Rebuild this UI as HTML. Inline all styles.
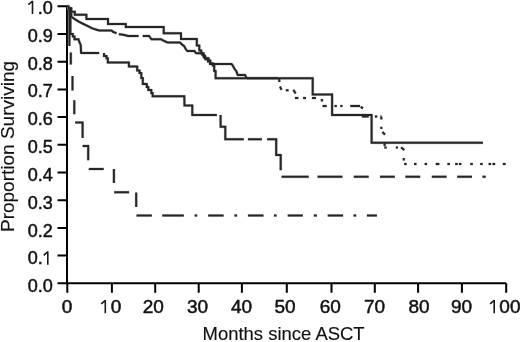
<!DOCTYPE html>
<html><head><meta charset="utf-8"><style>
html,body{margin:0;padding:0;background:#fff;width:520px;height:342px;overflow:hidden}
svg{display:block;filter:grayscale(1)}
text{font-family:"Liberation Sans",sans-serif;font-size:19px;fill:#111;stroke:#111;stroke-width:0.5px}
.h{fill:none;stroke:none}
.t{stroke-width:0.15px}
</style></head><body>
<svg width="520" height="342" viewBox="0 0 520 342">
<path d="M57.50,6.30H67.00V283.30H506.20" fill="none" stroke="#000" stroke-width="2"/>
<path d="M57.50,283.30H67.00M57.50,255.60H67.00M57.50,227.90H67.00M57.50,200.20H67.00M57.50,172.50H67.00M57.50,144.80H67.00M57.50,117.10H67.00M57.50,89.40H67.00M57.50,61.70H67.00M57.50,34.00H67.00M67.30,283.30V292.70M111.90,283.30V292.70M155.20,283.30V292.70M198.70,283.30V292.70M241.90,283.30V292.70M286.80,283.30V292.70M331.50,283.30V292.70M374.80,283.30V292.70M418.10,283.30V292.70M461.90,283.30V292.70M506.20,283.30V292.70" fill="none" stroke="#000" stroke-width="2"/>
<path d="M32.50,0.80V14.00M28.40,4.60L32.60,1.00M47.80,251.50V264.70M43.70,255.30L47.90,251.70M105.30,300.10V313.30M101.20,303.90L105.40,300.30M494.20,300.10V313.30M490.10,303.90L494.30,300.30" fill="none" stroke="#1a1a1a" stroke-width="1.6"/>
<text transform="translate(52.9,292.30) scale(0.95,1)" text-anchor="end">0.0</text>
<text transform="translate(52.9,264.47) scale(0.95,1)" text-anchor="end">0.<tspan class="h">1</tspan></text>
<text transform="translate(52.9,236.63) scale(0.95,1)" text-anchor="end">0.2</text>
<text transform="translate(52.9,208.80) scale(0.95,1)" text-anchor="end">0.3</text>
<text transform="translate(52.9,180.96) scale(0.95,1)" text-anchor="end">0.4</text>
<text transform="translate(52.9,153.12) scale(0.95,1)" text-anchor="end">0.5</text>
<text transform="translate(52.9,125.29) scale(0.95,1)" text-anchor="end">0.6</text>
<text transform="translate(52.9,97.46) scale(0.95,1)" text-anchor="end">0.7</text>
<text transform="translate(52.9,69.62) scale(0.95,1)" text-anchor="end">0.8</text>
<text transform="translate(52.9,41.78) scale(0.95,1)" text-anchor="end">0.9</text>
<text transform="translate(52.9,13.95) scale(0.95,1)" text-anchor="end"><tspan class="h">1</tspan>.0</text>
<text x="67.10" y="313.3" text-anchor="middle">0</text>
<text x="110.80" y="313.3" text-anchor="middle"><tspan class="h">1</tspan>0</text>
<text x="153.20" y="313.3" text-anchor="middle">20</text>
<text x="197.50" y="313.3" text-anchor="middle">30</text>
<text x="241.50" y="313.3" text-anchor="middle">40</text>
<text x="285.00" y="313.3" text-anchor="middle">50</text>
<text x="330.20" y="313.3" text-anchor="middle">60</text>
<text x="374.60" y="313.3" text-anchor="middle">70</text>
<text x="419.00" y="313.3" text-anchor="middle">80</text>
<text x="461.50" y="313.3" text-anchor="middle">90</text>
<text x="504.60" y="313.3" text-anchor="middle"><tspan class="h">1</tspan>00</text>
<text class="t" x="202.6" y="340.3" textLength="162" lengthAdjust="spacingAndGlyphs">Months since ASCT</text>
<text class="t" transform="translate(13.5,146.5) rotate(-90)" text-anchor="middle">Proportion Surviving</text>
<path d="M67.0,6.3 L68.6,6.3 L68.6,8.2 L71.3,8.2 L71.3,11.7 L74.8,11.7 L74.8,14.7 L86.4,14.7 L86.4,18.9 L108.0,18.9 L108.0,23.9 L125.8,23.9 L125.8,27.0 L163.7,27.0 L163.7,33.3 L181.0,33.3 L181.0,39.1 L196.8,39.1 L196.8,45.4 L199.3,45.4 L199.3,48.7 L199.3,50.5 L201.3,50.5 L201.3,53.3 L203.5,53.3 L203.5,55.8 L205.0,55.8 L205.0,58.3 L208.5,58.3 L208.5,60.5 L210.3,60.5 L210.3,63.3 L212.8,63.3 L212.8,65.5 L214.2,65.5 L214.2,71.0 L215.6,71.0 L215.6,78.2 L312.7,78.2 L312.7,94.4 L332.1,94.4 L332.1,115.1 L371.6,115.1 L371.6,142.8 L483.0,142.8" fill="none" stroke="#c4c4c4" stroke-width="3.0" stroke-linejoin="round" stroke-linecap="butt"/>
<path d="M69.8,7.0 L69.8,14.0 L71.3,14.0 L71.3,16.5 L74.8,19.2 L79.2,21.8 L83.5,24.0 L87.9,26.2 L92.3,28.4 L96.7,29.7 L99.3,30.4 L111.5,30.4 L113.3,32.0 L116.6,33.1 M118.8,34.2 L122.0,34.6 L126.5,35.5 L127.7,35.9 L138.6,35.9 M142.7,35.9 L149.0,35.9 L150.5,38.0 L151.5,39.3 L161.0,39.3 L163.5,40.6 L166.9,42.2 L168.0,42.5 L180.0,42.5 L181.9,44.4 L184.2,46.1 L185.4,48.5 L187.1,50.8 L187.5,51.0 L194.5,51.0 L195.7,52.8 L196.5,53.2 L202.3,53.2 L202.3,54.8 L203.8,54.8 L203.8,57.3 L205.5,57.3 L205.5,59.3 L208.0,59.3 L208.0,61.5 L210.0,61.5 L210.0,64.0 L231.5,64.0 L232.6,65.3 L234.5,68.8 L236.5,71.5 L237.6,74.8 L238.0,75.1 L245.0,75.1 L246.5,77.8 L247.5,78.3 L277.7,78.3 M279.3,78.4 L279.3,82.0 M280.0,86.5 L281.5,89.8 M285.8,90.2 L288.6,90.2 M293.4,89.8 L295.6,93.4 M294.9,98.1 L298.4,98.1 M303.1,98.1 L306.0,98.1 M311.9,98.1 L316.0,98.1 M321.9,99.0 L321.9,101.4 M322.6,106.1 L326.7,106.1 M334.5,106.1 L336.8,106.1 M340.3,106.1 L342.5,106.1 M350.3,106.1 L360.1,106.1 M360.7,106.8 L363.0,108.3 M361.8,116.4 L368.7,116.4 M374.8,116.4 L377.3,116.4 M380.4,116.4 L381.6,116.4 M381.3,116.8 L381.3,119.5 M381.3,126.8 L381.3,129.0 M382.4,132.0 L385.0,134.6 M384.6,143.0 L384.6,146.0 M384.3,147.5 L386.7,147.5 M395.8,147.5 L398.0,147.5 M401.1,147.4 L404.3,150.0 M403.8,158.0 L403.8,160.5 M404.1,164.1 L406.6,164.1 M414.0,164.1 L416.5,164.1 M424.6,164.1 L427.1,164.1 M435.7,164.1 L439.4,164.1 M447.4,164.1 L449.9,164.1 M455.2,164.1 L457.7,164.1 M458.9,164.1 L461.4,164.1 M470.3,164.1 L472.8,164.1 M480.2,164.1 L482.7,164.1 M488.6,164.1 L491.1,164.1 M492.5,164.1 L495.2,164.1 M502.8,164.1 L505.6,164.1" fill="none" stroke="#c4c4c4" stroke-width="3.0" stroke-linejoin="round" stroke-linecap="butt"/>
<path d="M70.4,7.0 L70.4,33.9 L72.8,33.9 L72.8,36.5 L74.5,36.5 L74.5,39.2 L78.5,39.2 L79.4,42.2 L80.7,44.9 L81.1,52.8 L81.3,53.1 L99.2,53.1 M104.0,53.1 L104.0,56.0 L106.5,56.0 L106.5,58.3 L107.8,58.3 L107.8,62.5 L128.9,62.5 L128.9,66.4 L137.2,66.4 L137.2,70.5 L139.5,70.5 L139.5,73.0 L141.3,73.0 L141.3,78.0 L142.8,78.0 L142.8,84.0 L146.8,84.0 L146.8,87.0 L148.3,87.0 L148.3,90.0 L151.3,90.0 L151.3,93.0 L152.6,93.0 L152.6,96.3 L184.3,96.3 L184.5,105.6 L192.3,105.6 L192.3,114.9 L216.9,114.9 M220.6,114.9 L220.6,126.8 L225.3,126.8 L225.3,139.3 L243.8,139.3 M247.9,139.3 L261.9,139.3 M267.1,139.3 L276.2,139.3 L276.2,155.1 L280.7,155.1 L280.7,170.3 M281.5,176.8 L308.7,176.8 M317.5,176.8 L342.5,176.8 M353.7,176.8 L368.7,176.8 M380.0,176.8 L394.8,176.8 M405.4,176.8 L420.2,176.8 M431.8,176.8 L446.6,176.8 M457.2,176.8 L472.0,176.8 M482.5,176.8 L485.7,176.8" fill="none" stroke="#c4c4c4" stroke-width="3.0" stroke-linejoin="round" stroke-linecap="butt"/>
<path d="M69.4,7.0 L69.4,46.0 M70.8,52.4 L70.8,64.5 M72.5,76.0 L72.5,90.5 M74.3,100.2 L74.3,114.2 M75.2,122.5 L82.6,122.5 L82.6,137.9 M82.6,146.1 L88.2,146.1 L88.2,160.2 M88.8,169.0 L103.7,169.0 M113.9,169.0 L113.9,183.0 M114.2,192.3 L129.1,192.3 M136.2,192.4 L136.2,207.0 M136.5,215.4 L151.8,215.4 M162.3,215.4 L183.8,215.4 M194.6,215.4 L197.2,215.4 M208.2,215.4 L223.6,215.4 M234.4,215.4 L237.1,215.4 M247.9,215.4 L263.5,215.4 M274.0,215.4 L276.6,215.4 M287.7,215.4 L302.8,215.4 M313.8,215.4 L316.9,215.4 M327.7,215.4 L343.1,215.4 M353.5,215.4 L356.2,215.4 M366.9,215.4 L376.9,215.4" fill="none" stroke="#c4c4c4" stroke-width="3.0" stroke-linejoin="round" stroke-linecap="butt"/>
<path d="M67.0,6.3 L68.6,6.3 L68.6,8.2 L71.3,8.2 L71.3,11.7 L74.8,11.7 L74.8,14.7 L86.4,14.7 L86.4,18.9 L108.0,18.9 L108.0,23.9 L125.8,23.9 L125.8,27.0 L163.7,27.0 L163.7,33.3 L181.0,33.3 L181.0,39.1 L196.8,39.1 L196.8,45.4 L199.3,45.4 L199.3,48.7 L199.3,50.5 L201.3,50.5 L201.3,53.3 L203.5,53.3 L203.5,55.8 L205.0,55.8 L205.0,58.3 L208.5,58.3 L208.5,60.5 L210.3,60.5 L210.3,63.3 L212.8,63.3 L212.8,65.5 L214.2,65.5 L214.2,71.0 L215.6,71.0 L215.6,78.2 L312.7,78.2 L312.7,94.4 L332.1,94.4 L332.1,115.1 L371.6,115.1 L371.6,142.8 L483.0,142.8" fill="none" stroke="#262626" stroke-width="2.0" stroke-linejoin="miter" stroke-linecap="butt"/>
<path d="M69.8,7.0 L69.8,14.0 L71.3,14.0 L71.3,16.5 L74.8,19.2 L79.2,21.8 L83.5,24.0 L87.9,26.2 L92.3,28.4 L96.7,29.7 L99.3,30.4 L111.5,30.4 L113.3,32.0 L116.6,33.1 M118.8,34.2 L122.0,34.6 L126.5,35.5 L127.7,35.9 L138.6,35.9 M142.7,35.9 L149.0,35.9 L150.5,38.0 L151.5,39.3 L161.0,39.3 L163.5,40.6 L166.9,42.2 L168.0,42.5 L180.0,42.5 L181.9,44.4 L184.2,46.1 L185.4,48.5 L187.1,50.8 L187.5,51.0 L194.5,51.0 L195.7,52.8 L196.5,53.2 L202.3,53.2 L202.3,54.8 L203.8,54.8 L203.8,57.3 L205.5,57.3 L205.5,59.3 L208.0,59.3 L208.0,61.5 L210.0,61.5 L210.0,64.0 L231.5,64.0 L232.6,65.3 L234.5,68.8 L236.5,71.5 L237.6,74.8 L238.0,75.1 L245.0,75.1 L246.5,77.8 L247.5,78.3 L277.7,78.3 M279.3,78.4 L279.3,82.0 M280.0,86.5 L281.5,89.8 M285.8,90.2 L288.6,90.2 M293.4,89.8 L295.6,93.4 M294.9,98.1 L298.4,98.1 M303.1,98.1 L306.0,98.1 M311.9,98.1 L316.0,98.1 M321.9,99.0 L321.9,101.4 M322.6,106.1 L326.7,106.1 M334.5,106.1 L336.8,106.1 M340.3,106.1 L342.5,106.1 M350.3,106.1 L360.1,106.1 M360.7,106.8 L363.0,108.3 M361.8,116.4 L368.7,116.4 M374.8,116.4 L377.3,116.4 M380.4,116.4 L381.6,116.4 M381.3,116.8 L381.3,119.5 M381.3,126.8 L381.3,129.0 M382.4,132.0 L385.0,134.6 M384.6,143.0 L384.6,146.0 M384.3,147.5 L386.7,147.5 M395.8,147.5 L398.0,147.5 M401.1,147.4 L404.3,150.0 M403.8,158.0 L403.8,160.5 M404.1,164.1 L406.6,164.1 M414.0,164.1 L416.5,164.1 M424.6,164.1 L427.1,164.1 M435.7,164.1 L439.4,164.1 M447.4,164.1 L449.9,164.1 M455.2,164.1 L457.7,164.1 M458.9,164.1 L461.4,164.1 M470.3,164.1 L472.8,164.1 M480.2,164.1 L482.7,164.1 M488.6,164.1 L491.1,164.1 M492.5,164.1 L495.2,164.1 M502.8,164.1 L505.6,164.1" fill="none" stroke="#262626" stroke-width="2.0" stroke-linejoin="miter" stroke-linecap="butt"/>
<path d="M70.4,7.0 L70.4,33.9 L72.8,33.9 L72.8,36.5 L74.5,36.5 L74.5,39.2 L78.5,39.2 L79.4,42.2 L80.7,44.9 L81.1,52.8 L81.3,53.1 L99.2,53.1 M104.0,53.1 L104.0,56.0 L106.5,56.0 L106.5,58.3 L107.8,58.3 L107.8,62.5 L128.9,62.5 L128.9,66.4 L137.2,66.4 L137.2,70.5 L139.5,70.5 L139.5,73.0 L141.3,73.0 L141.3,78.0 L142.8,78.0 L142.8,84.0 L146.8,84.0 L146.8,87.0 L148.3,87.0 L148.3,90.0 L151.3,90.0 L151.3,93.0 L152.6,93.0 L152.6,96.3 L184.3,96.3 L184.5,105.6 L192.3,105.6 L192.3,114.9 L216.9,114.9 M220.6,114.9 L220.6,126.8 L225.3,126.8 L225.3,139.3 L243.8,139.3 M247.9,139.3 L261.9,139.3 M267.1,139.3 L276.2,139.3 L276.2,155.1 L280.7,155.1 L280.7,170.3 M281.5,176.8 L308.7,176.8 M317.5,176.8 L342.5,176.8 M353.7,176.8 L368.7,176.8 M380.0,176.8 L394.8,176.8 M405.4,176.8 L420.2,176.8 M431.8,176.8 L446.6,176.8 M457.2,176.8 L472.0,176.8 M482.5,176.8 L485.7,176.8" fill="none" stroke="#262626" stroke-width="2.0" stroke-linejoin="miter" stroke-linecap="butt"/>
<path d="M69.4,7.0 L69.4,46.0 M70.8,52.4 L70.8,64.5 M72.5,76.0 L72.5,90.5 M74.3,100.2 L74.3,114.2 M75.2,122.5 L82.6,122.5 L82.6,137.9 M82.6,146.1 L88.2,146.1 L88.2,160.2 M88.8,169.0 L103.7,169.0 M113.9,169.0 L113.9,183.0 M114.2,192.3 L129.1,192.3 M136.2,192.4 L136.2,207.0 M136.5,215.4 L151.8,215.4 M162.3,215.4 L183.8,215.4 M194.6,215.4 L197.2,215.4 M208.2,215.4 L223.6,215.4 M234.4,215.4 L237.1,215.4 M247.9,215.4 L263.5,215.4 M274.0,215.4 L276.6,215.4 M287.7,215.4 L302.8,215.4 M313.8,215.4 L316.9,215.4 M327.7,215.4 L343.1,215.4 M353.5,215.4 L356.2,215.4 M366.9,215.4 L376.9,215.4" fill="none" stroke="#262626" stroke-width="2.0" stroke-linejoin="miter" stroke-linecap="butt"/>
</svg>
</body></html>
